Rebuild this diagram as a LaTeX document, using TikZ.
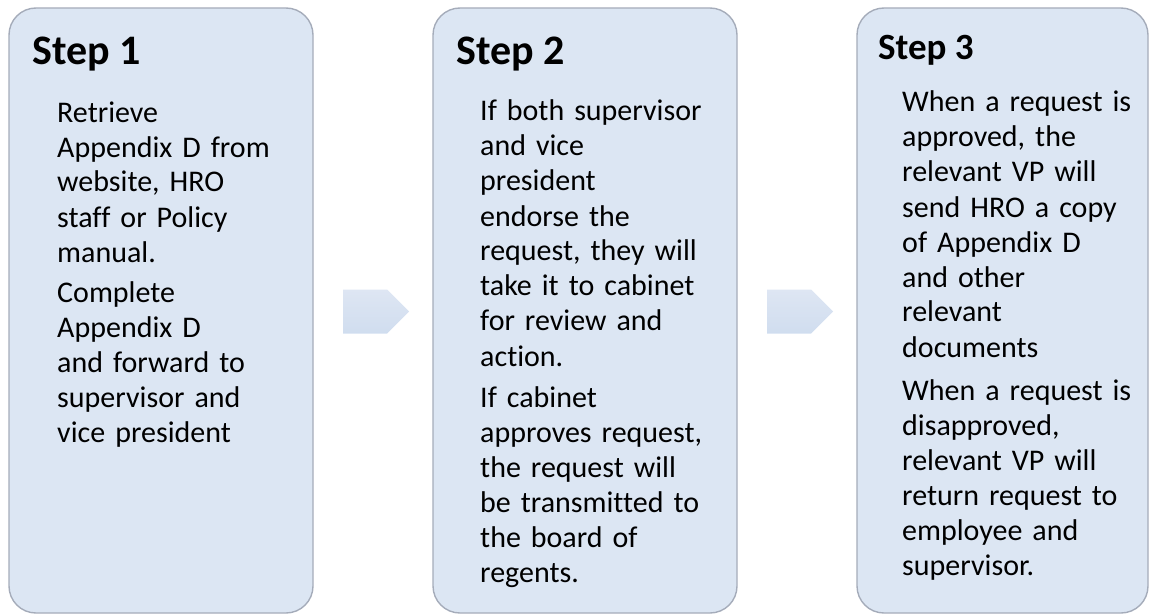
\documentclass[tikz,border=0pt]{standalone}
\usepackage{fontspec}
\setmainfont{Carlito}[Ligatures=NoCommon]
\usetikzlibrary{shapes.symbols,calc}
\definecolor{boxfill}{RGB}{220,230,243}
\definecolor{boxline}{RGB}{165,172,186}
\definecolor{arrtop}{RGB}{222,230,243}
\definecolor{arrbot}{RGB}{208,221,239}
\tikzset{
  stepbox/.style={draw=boxline, line width=1.4pt, fill=boxfill, rounded corners=27pt,
    minimum width=304pt, minimum height=605pt, inner sep=0pt},
  steparrow/.style={signal, signal to=east, signal pointer angle=90, top color=arrtop,
    bottom color=arrbot, draw=none, minimum width=66pt, minimum height=44pt, inner sep=0pt},
  head/.style={anchor=base west, inner sep=0pt, font=\bfseries\fontsize{42}{50}\selectfont},
  body/.style={anchor=base west, inner sep=0pt, text width=300pt, align=left,
    font=\fontsize{30}{35}\selectfont}
}
\begin{document}
\begin{tikzpicture}[x=1pt,y=1pt]
\useasboundingbox (0,0) rectangle (1150,-615);
\node[stepbox] (b1) at (161,-310.5) {};
\node[stepbox] (b2) at (585,-310.5) {};
\node[stepbox, minimum width=291pt] (b3) at (1002.5,-310.5) {};
\node[steparrow] (a1) at ($(b1.east)!0.5!(b2.west)+(-8,-1)$) {};
\node[steparrow] (a2) at ($(b2.east)!0.5!(b3.west)+(-8,-1)$) {};
\node[head] (h1) at (32,-65) {Step 1};
\node[head] (h2) at (456,-65) {Step 2};
\node[head, font=\bfseries\fontsize{37}{44}\selectfont] (h3) at (878,-60) {Step 3};
\node[body] (t1) at (57,-122) {Retrieve\\ Appendix D from\\ website, HRO\\ staff or Policy\\ manual.\\[5pt] Complete\\ Appendix D\\ and forward to\\ supervisor and\\ vice president};
\node[body] (t2) at (480,-121) {If both supervisor\\ and vice\\ president\\ endorse the\\ request, they will\\ take it to cabinet\\ for review and\\ action.\\[6pt] If cabinet\\ approves request,\\ the request will\\ be transmitted to\\ the board of\\ regents.};
\node[body] (t3) at (902,-112) {When a request is\\ approved, the\\ relevant VP will\\ send HRO a copy\\ of Appendix D\\ and other\\ relevant\\ documents\\[8pt] When a request is\\ disapproved,\\ relevant VP will\\ return request to\\ employee and\\ supervisor.};
\end{tikzpicture}
\end{document}
